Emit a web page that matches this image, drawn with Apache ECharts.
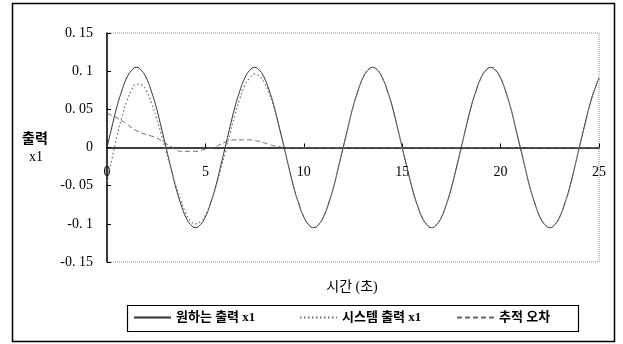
<!DOCTYPE html>
<html>
<head>
<meta charset="utf-8">
<script src="https://cdn.jsdelivr.net/npm/echarts@6/dist/echarts.min.js"></script>
<style>
html,body{margin:0;padding:0;background:#fff;}
#chart{width:623px;height:344px;}
</style>
</head>
<body>
<div id="chart"></div>
<script>
// ---- data ----
const seriesNames = ['원하는 출력 x1', '시스템 출력 x1', '추적 오차'];
const yTickLabels = ['-0. 15', '-0. 1', '-0. 05', '0', '0. 05', '0. 1', '0. 15'];
const xTickLabels = ['0', '5', '10', '15', '20', '25'];
const xTitle = '시간 (초)';
const yTitle1 = '출력';
const yTitle2 = 'x1';

const time = [0,0.25,0.5,0.75,1,1.25,1.5,1.75,2,2.25,2.5,2.75,3,3.25,3.5,3.75,4,4.25,4.5,4.75,
  5,5.25,5.5,5.75,6,6.25,6.5,6.75,7,7.25,7.5,7.75,8,8.25,8.5,8.75,9,9.25,9.5,9.75,
  10,10.25,10.5,10.75,11,11.25,11.5,11.75,12,12.25,12.5,12.75,13,13.25,13.5,13.75,14,14.25,14.5,14.75,
  15,15.25,15.5,15.75,16,16.25,16.5,16.75,17,17.25,17.5,17.75,18,18.25,18.5,18.75,19,19.25,19.5,19.75,
  20,20.25,20.5,20.75,21,21.25,21.5,21.75,22,22.25,22.5,22.75,23,23.25,23.5,23.75,24,24.25,24.5,24.75,25];

const desired = [
  0,0.027,0.053,0.074,0.091,0.101,0.105,0.101,0.091,0.074,0.053,0.027,0,-0.027,-0.053,-0.074,-0.091,-0.101,-0.105,-0.101,-0.091,-0.074,-0.053,-0.027,
  0,0.027,0.053,0.074,0.091,0.101,0.105,0.101,0.091,0.074,0.053,0.027,0,-0.027,-0.053,-0.074,-0.091,-0.101,-0.105,-0.101,-0.091,-0.074,-0.053,-0.027,
  0,0.027,0.053,0.074,0.091,0.101,0.105,0.101,0.091,0.074,0.053,0.027,0,-0.027,-0.053,-0.074,-0.091,-0.101,-0.105,-0.101,-0.091,-0.074,-0.053,-0.027,
  0,0.027,0.053,0.074,0.091,0.101,0.105,0.101,0.091,0.074,0.053,0.027,0,-0.027,-0.053,-0.074,-0.091,-0.101,-0.105,-0.101,-0.091,-0.074,-0.053,-0.027,
  0,0.027,0.053,0.074,0.091];

const system = [
  -0.045,-0.015,0.014,0.039,0.060,0.075,0.083,0.082,0.074,0.059,0.040,0.018,-0.005,-0.028,-0.050,-0.069,-0.086,-0.096,-0.100,-0.097,-0.089,-0.073,-0.054,-0.031,
  -0.007,0.018,0.043,0.064,0.081,0.091,0.096,0.093,0.085,0.070,0.051,0.026,0,-0.027,-0.053,-0.074,-0.091,-0.101,-0.105,-0.101,-0.091,-0.074,-0.053,-0.027,
  0,0.027,0.053,0.074,0.091,0.101,0.105,0.101,0.091,0.074,0.053,0.027,0,-0.027,-0.053,-0.074,-0.091,-0.101,-0.105,-0.101,-0.091,-0.074,-0.053,-0.027,
  0,0.027,0.053,0.074,0.091,0.101,0.105,0.101,0.091,0.074,0.053,0.027,0,-0.027,-0.053,-0.074,-0.091,-0.101,-0.105,-0.101,-0.091,-0.074,-0.053,-0.027,
  0,0.027,0.053,0.074,0.091];

const trackError = [
  0.045,0.042,0.039,0.035,0.031,0.026,0.022,0.019,0.017,0.015,0.013,0.009,0.005,0.001,-0.003,-0.005,-0.005,-0.005,-0.005,-0.004,-0.002,-0.001,0.001,0.004,
  0.007,0.009,0.010,0.010,0.010,0.010,0.009,0.008,0.006,0.004,0.002,0.001,0,0,0,0,0,0,0,0,0,0,0,0,
  0,0,0,0,0,0,0,0,0,0,0,0,0,0,0,0,0,0,0,0,0,0,0,0,
  0,0,0,0,0,0,0,0,0,0,0,0,0,0,0,0,0,0,0,0,0,0,0,0,
  0,0,0,0,0];

// ---- chart ----
const Y_MIN = -0.15, Y_MAX = 0.15, Y_STEP = 0.05;
const X_MIN = 0, X_MAX = 25, X_STEP = 5;
const GRID_TOP = 33, GRID_BOTTOM = 82, H = 344;
const gridHeight = H - GRID_TOP - GRID_BOTTOM;
// move the x axis up to the zero line of the y scale
const zeroOffset = -gridHeight * (0 - Y_MIN) / (Y_MAX - Y_MIN);
const pairs = (ys) => time.map((t, i) => [t, ys[i]]);

const serifFont = "'Liberation Serif', 'DejaVu Serif', serif";
const krFont = "'Liberation Serif', 'Noto Sans CJK KR', sans-serif";
const lineColors = ['#333', '#777', '#666'];

const chart = echarts.init(document.getElementById('chart'), null, {renderer: 'canvas'});

function legendAt(name, left) {
  return {
    data: [name],
    left: left,
    top: 311,
    padding: 0,
    itemWidth: 37,
    itemHeight: 14,
    selectedMode: false,
    itemStyle: {opacity: 0},
    textStyle: {fontFamily: krFont, fontSize: 13, fontWeight: 'bold', color: '#000'}
  };
}

chart.setOption({
  animation: false,
  backgroundColor: '#fff',
  grid: {
    left: 107, right: 24, top: GRID_TOP, bottom: GRID_BOTTOM,
    show: true, borderColor: '#888', borderWidth: 1, borderType: 'dotted',
    backgroundColor: 'transparent'
  },
  legend: [
    legendAt(seriesNames[0], 133),
    legendAt(seriesNames[1], 299),
    legendAt(seriesNames[2], 456)
  ],
  xAxis: {
    type: 'value', min: X_MIN, max: X_MAX, interval: X_STEP,
    position: 'bottom', offset: zeroOffset,
    axisLine: {show: true, onZero: false, lineStyle: {color: '#000', width: 1.5}},
    axisTick: {show: true, inside: true, length: 4, lineStyle: {color: '#000'}},
    splitLine: {show: false},
    axisLabel: {
      margin: 18, color: '#000', fontFamily: serifFont, fontSize: 14,
      showMinLabel: true, showMaxLabel: true,
      formatter: (v) => xTickLabels[Math.round((v - X_MIN) / X_STEP)]
    }
  },
  yAxis: {
    type: 'value', min: Y_MIN, max: Y_MAX, interval: Y_STEP,
    axisLine: {show: true, onZero: false, lineStyle: {color: '#000', width: 1.5}},
    axisTick: {show: true, inside: true, length: 4, lineStyle: {color: '#000'}},
    splitLine: {show: false},
    axisLabel: {
      margin: 14, color: '#000', fontFamily: serifFont, fontSize: 14,
      formatter: (v) => yTickLabels[Math.round((v - Y_MIN) / Y_STEP)]
    }
  },
  series: [
    {
      name: seriesNames[0], type: 'line', data: pairs(desired), smooth: true,
      symbol: 'none', itemStyle: {color: lineColors[0]},
      lineStyle: {color: lineColors[0], width: 1, type: 'solid'}, z: 3
    },
    {
      name: seriesNames[1], type: 'line', data: pairs(system), smooth: true,
      symbol: 'none', itemStyle: {color: lineColors[1]},
      lineStyle: {color: lineColors[1], width: 1.3, type: [1.5, 2.5]}, z: 4
    },
    {
      name: seriesNames[2], type: 'line', data: pairs(trackError), smooth: true,
      symbol: 'none', itemStyle: {color: lineColors[2]},
      lineStyle: {color: lineColors[2], width: 1, type: [5, 3]}, z: 2
    }
  ],
  graphic: [
    {type: 'rect', shape: {x: 12.5, y: 3.5, width: 602, height: 338}, style: {fill: null, stroke: '#000', lineWidth: 1.5}, silent: true, z: 0},
    {type: 'rect', shape: {x: 127.5, y: 305.5, width: 451, height: 26}, style: {fill: null, stroke: '#000', lineWidth: 1.2}, silent: true, z: 0},
    {type: 'text', x: 35, y: 138, style: {text: yTitle1, align: 'center', verticalAlign: 'middle', font: "bold 14px 'Noto Sans CJK KR'", fill: '#000'}, silent: true},
    {type: 'text', x: 36, y: 157, style: {text: yTitle2, align: 'center', verticalAlign: 'middle', font: "14px 'Liberation Serif'", fill: '#000'}, silent: true},
    {type: 'text', x: 352, y: 287, style: {text: xTitle, align: 'center', verticalAlign: 'middle', font: "14px 'Liberation Serif', 'Noto Sans CJK KR'", fill: '#000'}, silent: true}
  ]
});
</script>
</body>
</html>
